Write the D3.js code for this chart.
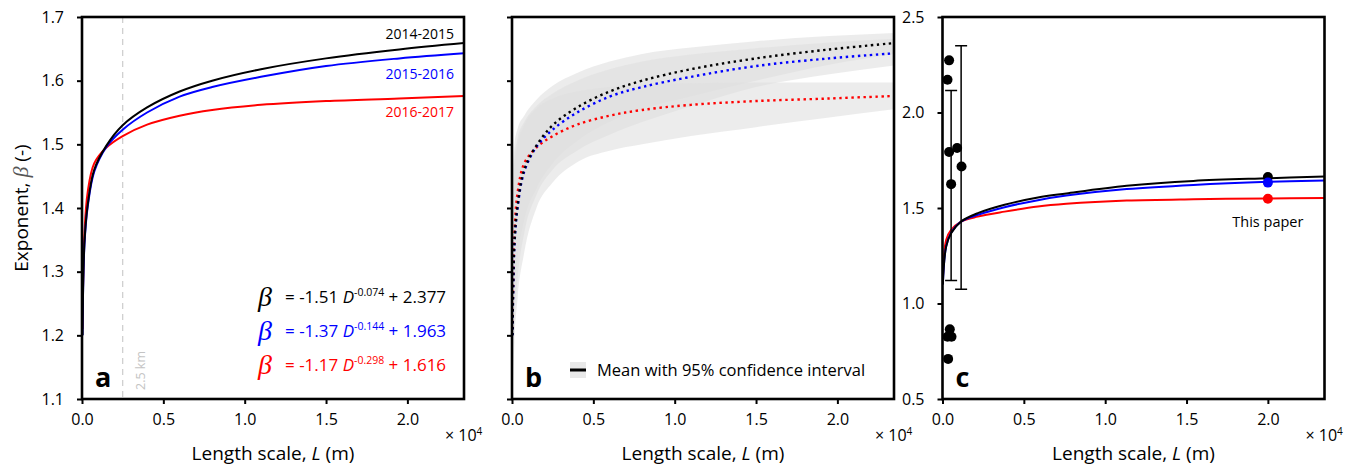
<!DOCTYPE html>
<html>
<head>
<meta charset="utf-8">
<script src="https://cdn.jsdelivr.net/npm/d3@7"></script>
<style>
  body { margin: 0; background: #fff; }
  svg { font-family: "Open Sans", sans-serif; }
  text { white-space: pre; }
</style>
</head>
<body>
<svg id="canvas" width="1360" height="466"></svg>
<script>
// ---------------------------------------------------------------- data
var lengthA = [30, 150, 350, 750, 1500, 2500, 4000, 6000, 8000, 11000, 15000, 19500, 23480];
var beta1415 = [1.20, 1.345, 1.405, 1.460, 1.498, 1.530, 1.558, 1.583, 1.600, 1.618, 1.635, 1.649, 1.659];
var beta1516 = [1.20, 1.342, 1.402, 1.457, 1.496, 1.523, 1.550, 1.575, 1.590, 1.606, 1.623, 1.635, 1.643];
var beta1617 = [1.21, 1.360, 1.425, 1.470, 1.495, 1.513, 1.531, 1.545, 1.554, 1.562, 1.568, 1.572, 1.576];

// 95% confidence bands (panel b)
var upper1415 = [1.45, 1.50, 1.525, 1.545, 1.570, 1.592, 1.612, 1.630, 1.642, 1.652, 1.662, 1.670, 1.675];
var lower1415 = [1.15, 1.26, 1.32, 1.38, 1.43, 1.47, 1.505, 1.535, 1.555, 1.575, 1.600, 1.625, 1.642];
var upper1516 = [1.42, 1.48, 1.51, 1.535, 1.56, 1.58, 1.60, 1.618, 1.630, 1.641, 1.651, 1.660, 1.666];
var lower1516 = [1.12, 1.22, 1.29, 1.36, 1.42, 1.46, 1.49, 1.515, 1.535, 1.560, 1.590, 1.610, 1.624];
var upper1617 = [1.33, 1.46, 1.50, 1.53, 1.556, 1.572, 1.583, 1.590, 1.594, 1.596, 1.597, 1.597, 1.597];
var lower1617 = [1.10, 1.19, 1.26, 1.33, 1.40, 1.44, 1.472, 1.490, 1.500, 1.513, 1.527, 1.542, 1.555];

// panel c
var lengthC = [20, 225, 530, 1145, 2170, 3815, 5865, 7610, 11320, 15420, 20040, 23480];
var betaC1415 = [1.10, 1.298, 1.368, 1.429, 1.473, 1.517, 1.555, 1.576, 1.616, 1.642, 1.656, 1.665];
var betaC1516 = [1.10, 1.300, 1.370, 1.429, 1.464, 1.504, 1.541, 1.565, 1.599, 1.621, 1.637, 1.644];
var betaC1617 = [1.11, 1.333, 1.385, 1.429, 1.455, 1.481, 1.508, 1.522, 1.539, 1.546, 1.550, 1.552];

var otherLength = [406, 308, 406, 898, 1169, 530, 449, 308, 554, 345];
var otherBeta = [2.273, 2.171, 1.793, 1.814, 1.717, 1.625, 0.865, 0.826, 0.826, 0.710];
var errLength = [530, 1145];
var errLow = [1.12, 1.075];
var errHigh = [2.115, 2.35];

var paperLength = 20000;
var paperBeta = [1.662, 1.633, 1.548];

var years = ['2014-2015', '2015-2016', '2016-2017'];
var colors = ['#000000', '#0000ff', '#ff0000'];
var equations = [['-1.51', '-0.074', '2.377'], ['-1.37', '-0.144', '1.963'], ['-1.17', '-0.298', '1.616']];

var xTicks = [0, 5000, 10000, 15000, 20000];
var xTickLabels = ['0.0', '0.5', '1.0', '1.5', '2.0'];
var yTicksA = [1.1, 1.2, 1.3, 1.4, 1.5, 1.6, 1.7];
var yTicksC = [0.5, 1.0, 1.5, 2.0, 2.5];

// ---------------------------------------------------------------- layout
var svg = d3.select('#canvas');
var top_ = 17, size = 382;
var lefts = [82, 512, 942.5];
var xMax = 23480;

function makePanel(i, yDomain, yTicks, showYLabels, name){
  var p = {};
  p.left = lefts[i];
  p.x = d3.scaleLinear().domain([0, xMax]).range([p.left, p.left + size]);
  p.y = d3.scaleLinear().domain(yDomain).range([top_ + size, top_]);
  p.g = svg.append('g');

  svg.append('clipPath').attr('id', 'clip' + i)
    .append('rect').attr('x', p.left).attr('y', top_).attr('width', size).attr('height', size);
  p.inner = p.g.append('g').attr('clip-path', 'url(#clip' + i + ')');

  var xAxis = d3.axisBottom(p.x).tickValues(xTicks).tickSize(5).tickPadding(10)
    .tickFormat(function(d, k){ return xTickLabels[k]; });
  var gx = p.g.append('g').attr('transform', 'translate(0,' + (top_ + size) + ')').call(xAxis);
  gx.select('.domain').remove();
  gx.selectAll('line').attr('stroke-width', 2);
  gx.selectAll('text').attr('font-size', 16).attr('font-family', '"Open Sans", sans-serif').attr('fill', '#000');

  var yAxis = d3.axisLeft(p.y).tickValues(yTicks).tickSize(5).tickPadding(13)
    .tickFormat(function(d){ return showYLabels ? d.toFixed(1) : ''; });
  var gy = p.g.append('g').attr('transform', 'translate(' + p.left + ',0)').call(yAxis);
  gy.select('.domain').remove();
  gy.selectAll('line').attr('stroke-width', 2);
  gy.selectAll('text').attr('font-size', 16).attr('font-family', '"Open Sans", sans-serif').attr('fill', '#000');

  // x10^4
  var m = p.g.append('text').attr('x', p.left + size - 19).attr('y', 441).attr('font-size', 16);
  m.append('tspan').text('\u00d7 10');
  m.append('tspan').attr('dy', -6).attr('font-size', 10).text('4');

  var t = p.g.append('text').attr('x', p.left + size / 2).attr('y', 460)
    .attr('text-anchor', 'middle').attr('font-size', 19);
  t.append('tspan').text('Length scale, ');
  t.append('tspan').attr('font-style', 'italic').text('L');
  t.append('tspan').text(' (m)');

  p.g.append('text').attr('x', p.left + 13).attr('y', 387)
    .attr('font-size', 27).attr('font-weight', 'bold').text(name);
  return p;
}

var curve = d3.curveCatmullRom.alpha(0.5);
var lineGen = function(p, xs){
  return d3.line().x(function(d, k){ return p.x(xs[k]); }).y(function(d){ return p.y(d); }).curve(curve);
};
var areaGen = function(p, xs, lo){
  return d3.area().x(function(d, k){ return p.x(xs[k]); })
    .y0(function(d, k){ return p.y(lo[k]); }).y1(function(d){ return p.y(d); }).curve(d3.curveMonotoneX);
};

// ---------------------------------------------------------------- panel a
var pa = makePanel(0, [1.1, 1.7], yTicksA, true, 'a');

pa.inner.append('line').attr('x1', pa.x(2500)).attr('x2', pa.x(2500)).attr('y1', top_).attr('y2', top_ + size)
  .attr('stroke', '#d0d0d0').attr('stroke-width', 1.3).attr('stroke-dasharray', '6,5');
pa.g.append('text').attr('transform', 'translate(' + (pa.x(2500) + 22) + ',390) rotate(-90)')
  .attr('font-size', 12.5).attr('fill', '#c4c4c4').text('2.5 km');

var seriesA = [beta1415, beta1516, beta1617];
[2, 1, 0].forEach(function(k){
  pa.inner.append('path').attr('d', lineGen(pa, lengthA)(seriesA[k]))
    .attr('fill', 'none').attr('stroke', colors[k]).attr('stroke-width', 2);
});

var yearY = [39, 79, 117];
years.forEach(function(s, k){
  pa.g.append('text').attr('x', 454).attr('y', yearY[k]).attr('text-anchor', 'end')
    .attr('font-size', 14).attr('fill', colors[k]).text(s);
});

var eqY = [303, 337, 371];
equations.forEach(function(e, k){
  pa.g.append('text').attr('x', 258).attr('y', eqY[k] + 3).attr('font-family', '"Liberation Serif", serif')
    .attr('font-style', 'italic').attr('font-size', 28).attr('fill', colors[k]).text('\u03b2');
  var t = pa.g.append('text').attr('x', 285).attr('y', eqY[k]).attr('font-size', 17).attr('fill', colors[k]);
  t.append('tspan').text('= ' + e[0] + ' ');
  t.append('tspan').attr('font-style', 'italic').text('D');
  t.append('tspan').attr('dy', -7).attr('font-size', 10.5).text(e[1]);
  t.append('tspan').attr('dy', 7).text(' + ' + e[2]);
});

// y label
var yl = svg.append('text').attr('transform', 'translate(28,208) rotate(-90)')
  .attr('text-anchor', 'middle').attr('font-size', 19);
yl.append('tspan').text('Exponent, ');
yl.append('tspan').attr('font-family', '"Liberation Serif", serif').attr('font-style', 'italic').attr('font-size', 22).attr('fill', '#555').text('\u03b2');
yl.append('tspan').text(' (-)');

// ---------------------------------------------------------------- panel b
var pb = makePanel(1, [1.1, 1.7], yTicksA, false, 'b');
var bandsU = [upper1415, upper1516, upper1617];
var bandsL = [lower1415, lower1516, lower1617];
[0, 1, 2].forEach(function(k){
  pb.inner.append('path').attr('d', areaGen(pb, lengthA, bandsL[k])(bandsU[k]))
    .attr('fill', '#e0e0e0').attr('fill-opacity', 0.6).attr('stroke', 'none');
});
[2, 1, 0].forEach(function(k){
  pb.inner.append('path').attr('d', lineGen(pb, lengthA)(seriesA[k]))
    .attr('fill', 'none').attr('stroke', colors[k]).attr('stroke-width', 2.4).attr('stroke-dasharray', '2.4,3.6');
});
pb.g.append('rect').attr('x', 570).attr('y', 362).attr('width', 16).attr('height', 16).attr('fill', '#e8e8e8');
pb.g.append('line').attr('x1', 570).attr('x2', 586).attr('y1', 370).attr('y2', 370).attr('stroke', '#000').attr('stroke-width', 3);
pb.g.append('text').attr('x', 597).attr('y', 376).attr('font-size', 16.5).text('Mean with 95% confidence interval');

// ---------------------------------------------------------------- panel c
var pc = makePanel(2, [0.5, 2.5], yTicksC, true, 'c');
var seriesC = [betaC1415, betaC1516, betaC1617];
[2, 1, 0].forEach(function(k){
  pc.inner.append('path').attr('d', lineGen(pc, lengthC)(seriesC[k]))
    .attr('fill', 'none').attr('stroke', colors[k]).attr('stroke-width', 2);
});
errLength.forEach(function(L, k){
  var x = pc.x(L);
  pc.inner.append('line').attr('x1', x).attr('x2', x).attr('y1', pc.y(errLow[k])).attr('y2', pc.y(errHigh[k]))
    .attr('stroke', '#000').attr('stroke-width', 1.5);
  [errLow[k], errHigh[k]].forEach(function(v){
    pc.inner.append('line').attr('x1', x - 6).attr('x2', x + 6).attr('y1', pc.y(v)).attr('y2', pc.y(v))
      .attr('stroke', '#000').attr('stroke-width', 1.5);
  });
});
otherBeta.forEach(function(v, k){
  pc.inner.append('circle').attr('cx', pc.x(otherLength[k])).attr('cy', pc.y(v)).attr('r', 5).attr('fill', '#000');
});
paperBeta.forEach(function(v, k){
  pc.inner.append('circle').attr('cx', pc.x(paperLength)).attr('cy', pc.y(v)).attr('r', 5).attr('fill', colors[k]);
});
pc.g.append('text').attr('x', pc.x(paperLength)).attr('y', 227).attr('text-anchor', 'middle')
  .attr('font-size', 14.5).text('This paper');

// ---------------------------------------------------------------- frames
[pa, pb, pc].forEach(function(p){
  p.g.append('rect').attr('x', p.left).attr('y', top_).attr('width', size).attr('height', size)
    .attr('fill', 'none').attr('stroke', '#000').attr('stroke-width', 2.6);
});
</script>
</body>
</html>
